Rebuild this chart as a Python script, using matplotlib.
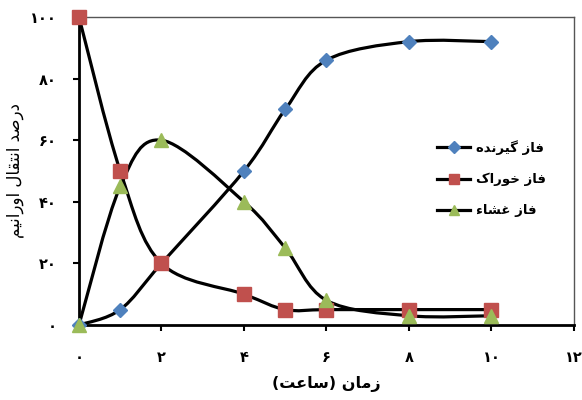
import numpy as np
import matplotlib
matplotlib.use("Agg")
import matplotlib.pyplot as plt
from matplotlib.path import Path
from matplotlib.patches import PathPatch
from matplotlib.lines import Line2D

plt.rcParams["font.family"] = ["DejaVu Sans"]

# ─── Data ─────────────────────────────────────────────────────────────────────
hours = [0, 1, 2, 4, 5, 6, 8, 10]
receiving = [0, 5, 20, 50, 70, 86, 92, 92]     # فاز گیرنده
feed = [100, 50, 20, 10, 5, 5, 5, 5]            # فاز خوراک
membrane = [0, 45, 60, 40, 25, 8, 3, 3]         # فاز غشاء

x_ticks = [0, 2, 4, 6, 8, 10, 12]
y_ticks = [0, 20, 40, 60, 80, 100]

names = ["فاز گیرنده", "فاز خوراک", "فاز غشاء"]
x_title = "زمان (ساعت)"
y_title = "درصد انتقال اورانیم"

# ─── Minimal Persian shaping (matplotlib has no RTL/joining support) ──────────
FORMS = {
    "ا": ("\uFE8D", "\uFE8E", None, None),
    "ب": ("\uFE8F", "\uFE90", "\uFE91", "\uFE92"),
    "ت": ("\uFE95", "\uFE96", "\uFE97", "\uFE98"),
    "خ": ("\uFEA5", "\uFEA6", "\uFEA7", "\uFEA8"),
    "د": ("\uFEA9", "\uFEAA", None, None),
    "ر": ("\uFEAD", "\uFEAE", None, None),
    "ز": ("\uFEAF", "\uFEB0", None, None),
    "س": ("\uFEB1", "\uFEB2", "\uFEB3", "\uFEB4"),
    "ش": ("\uFEB5", "\uFEB6", "\uFEB7", "\uFEB8"),
    "ص": ("\uFEB9", "\uFEBA", "\uFEBB", "\uFEBC"),
    "ع": ("\uFEC9", "\uFECA", "\uFECB", "\uFECC"),
    "غ": ("\uFECD", "\uFECE", "\uFECF", "\uFED0"),
    "ف": ("\uFED1", "\uFED2", "\uFED3", "\uFED4"),
    "ق": ("\uFED5", "\uFED6", "\uFED7", "\uFED8"),
    "ک": ("\uFB8E", "\uFB8F", "\uFB90", "\uFB91"),
    "گ": ("\uFB92", "\uFB93", "\uFB94", "\uFB95"),
    "ل": ("\uFEDD", "\uFEDE", "\uFEDF", "\uFEE0"),
    "م": ("\uFEE1", "\uFEE2", "\uFEE3", "\uFEE4"),
    "ن": ("\uFEE5", "\uFEE6", "\uFEE7", "\uFEE8"),
    "ه": ("\uFEE9", "\uFEEA", "\uFEEB", "\uFEEC"),
    "و": ("\uFEED", "\uFEEE", None, None),
    "ی": ("\uFBFC", "\uFBFD", "\uFBFE", "\uFBFF"),
}
MIRROR = {"(": ")", ")": "("}


def fa(text):
    out = []
    n = len(text)
    for i, c in enumerate(text):
        if c not in FORMS:
            out.append(MIRROR.get(c, c))
            continue
        prev = i > 0 and text[i - 1] in FORMS and FORMS[text[i - 1]][2] is not None
        nxt = i < n - 1 and text[i + 1] in FORMS and FORMS[c][2] is not None
        iso, fin, ini, med = FORMS[c]
        if prev and nxt:
            out.append(med)
        elif prev:
            out.append(fin)
        elif nxt:
            out.append(ini)
        else:
            out.append(iso)
    return "".join(out[::-1])


def fa_digits(v):
    return str(int(v)).translate(str.maketrans("0123456789", "۰۱۲۳۴۵۶۷۸۹"))


def smooth_path(xs, ys):
    # Excel-style smoothed line: Catmull-Rom segments as cubic Beziers
    p = np.column_stack([xs, ys]).astype(float)
    verts = [p[0]]
    codes = [Path.MOVETO]
    for i in range(len(p) - 1):
        p0 = p[i - 1] if i > 0 else p[i]
        p3 = p[i + 2] if i + 2 < len(p) else p[i + 1]
        c1 = p[i] + (p[i + 1] - p0) / 6
        c2 = p[i + 1] - (p3 - p[i]) / 6
        verts += [c1, c2, p[i + 1]]
        codes += [Path.CURVE4] * 3
    return Path(verts, codes)


# ─── Plot ─────────────────────────────────────────────────────────────────────
fig = plt.figure(figsize=(5.82, 4.0), dpi=100)
ax = fig.add_axes([0.1357, 0.1875, 0.8505, 0.77])

styles = [
    (receiving, "D", "#4F81BD", 7.5),
    (feed, "s", "#C0504D", 10),
    (membrane, "^", "#9BBB59", 10),
]
handles = []
for (vals, mk, col, ms), name in zip(styles, names):
    ax.add_patch(PathPatch(smooth_path(hours, vals), fill=False,
                           edgecolor="black", lw=2.3, zorder=2))
    ax.plot(hours, vals, ls="none", marker=mk, color=col, ms=ms,
            mec=col, zorder=3, clip_on=False)
    handles.append(Line2D([], [], color="black", lw=2.3, marker=mk,
                          mfc=col, mec=col, ms=ms * 0.75))

ax.set_xlim(0, 12)
ax.set_ylim(0, 100)
ax.set_xticks(x_ticks)
ax.set_yticks(y_ticks)
ax.set_xticklabels([fa_digits(v) for v in x_ticks], fontsize=10.5, fontweight="bold")
ax.set_yticklabels([fa_digits(v) for v in y_ticks], fontsize=10.5, fontweight="bold")
ax.tick_params(axis="x", direction="out", length=4, width=1.5, pad=14)
ax.tick_params(axis="y", direction="out", length=4, width=1.5, pad=12)

for side in ["left", "bottom"]:
    ax.spines[side].set_linewidth(2)
    ax.spines[side].set_color("black")
for side in ["top", "right"]:
    ax.spines[side].set_linewidth(1)
    ax.spines[side].set_color("#555555")

ax.set_xlabel(fa(x_title), fontsize=11.5, fontweight="bold", labelpad=8)
ax.set_ylabel(fa(y_title), fontsize=12)
ax.yaxis.set_label_coords(-0.112, 0.5)

ax.legend(handles, [fa(n) for n in names], loc="center left",
          bbox_to_anchor=(0.7, 0.475), frameon=False, handlelength=2.5,
          handletextpad=0.4, labelspacing=1.35,
          prop={"size": 9.5, "weight": "bold"})

fig.savefig("out.png", dpi=100)
